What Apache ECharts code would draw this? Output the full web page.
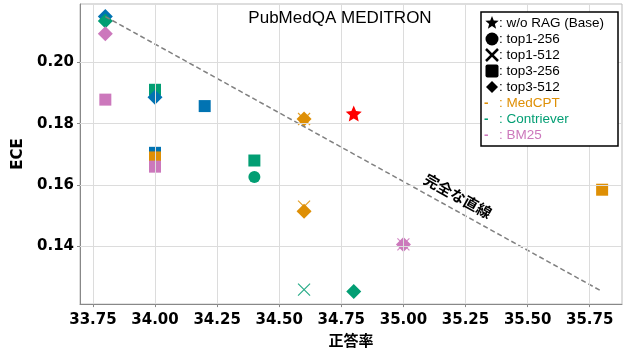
<!DOCTYPE html>
<html><head><meta charset="utf-8">
<script src="https://cdn.jsdelivr.net/npm/echarts@6/dist/echarts.min.js"></script>
<style>html,body{margin:0;padding:0;background:#fff}#c{width:624px;height:353px}</style>
</head><body><div id="c"></div>
<script>
// ---- data ----
const xTicks = [33.75, 34.00, 34.25, 34.50, 34.75, 35.00, 35.25, 35.50, 35.75];
const yTicks = [0.14, 0.16, 0.18, 0.20];
const baseRAG = [[34.8, 0.1833]];
const medcptTop1_512 = [[34.6, 0.1815], [34.6, 0.1530]];
const medcptTop3_256 = [[34.0, 0.1690], [35.8, 0.1585]];
const medcptTop3_512 = [[34.6, 0.1815], [34.6, 0.1515]];
const contrieverTop1_256 = [[34.4, 0.1626]];
const contrieverTop1_512 = [[34.6, 0.1260]];
const contrieverTop3_256 = [[34.0, 0.1910], [34.4, 0.1680]];
const contrieverTop3_512 = [[33.8, 0.2134], [34.8, 0.1254]];
const bm25Top1_512 = [[35.0, 0.1407]];
const bm25Top3_256 = [[33.8, 0.1878], [34.0, 0.1660]];
const bm25Top3_512 = [[33.8, 0.2092], [35.0, 0.1407]];
const otherTop3_256 = [[34.0, 0.1705], [34.2, 0.1857]];
const otherTop3_512 = [[33.8, 0.2148], [34.0, 0.1886]];
const perfectLine = [[33.8, 0.2148], [35.8, 0.1254]];
const legendShapes = ['w/o RAG (Base)', 'top1-256', 'top1-512', 'top3-256', 'top3-512'];
const legendRetrievers = ['MedCPT', 'Contriever', 'BM25'];

// ---- styles ----
const C = {MedCPT: '#de8f05', Contriever: '#029e73', BM25: '#cc78bc', Other: '#0173b2'};
const FONT = "'Liberation Sans', sans-serif";
const TICKFONT = "'DejaVu Sans', sans-serif";
const XPATH = 'path://M0,0L10,10M10,0L0,10';

function sq(d, c) { return {type: 'scatter', data: d, symbol: 'rect', symbolSize: 12, itemStyle: {color: c, opacity: 1}, z: 3}; }
function ci(d, c) { return {type: 'scatter', data: d, symbol: 'circle', symbolSize: 12, itemStyle: {color: c, opacity: 1}, z: 3}; }
function xx(d, c) { return {type: 'scatter', data: d, symbol: XPATH, symbolSize: 12, itemStyle: {color: 'transparent', borderColor: c, borderWidth: 1.2, opacity: 0.85}, z: 3}; }
function di(d, c) { return {type: 'scatter', data: d, symbol: 'diamond', symbolSize: 15, itemStyle: {color: c, opacity: 1}, z: 3}; }

const series = [
  {type: 'line', data: [], z: 1, silent: true,
   markLine: {silent: true, symbol: 'none', label: {show: false}, lineStyle: {color: '#dcdcdc', type: 'solid', width: 1},
     data: xTicks.map(v => ({xAxis: v})).concat(yTicks.map(v => ({yAxis: v})))}},
  sq(otherTop3_256, C.Other), sq(medcptTop3_256, C.MedCPT), sq(bm25Top3_256, C.BM25), sq(contrieverTop3_256, C.Contriever),
  ci(contrieverTop1_256, C.Contriever),
  xx(medcptTop1_512, C.MedCPT), xx(contrieverTop1_512, C.Contriever), xx(bm25Top1_512, C.BM25),
  di(otherTop3_512, C.Other), di(contrieverTop3_512, C.Contriever), di(bm25Top3_512, C.BM25), di(medcptTop3_512, C.MedCPT),
  {type: 'line', data: perfectLine, symbol: 'none', z: 4, lineStyle: {color: '#808080', width: 1.5, type: [5, 3]}},
  {type: 'scatter', data: baseRAG, symbol: 'path://M10,0L12.9,6.9L20,7.6L14.6,12.3L16.2,19.5L10,15.8L3.8,19.5L5.4,12.3L0,7.6L7.1,6.9Z', symbolSize: 16, itemStyle: {color: '#ff0000', opacity: 1}, z: 5}
];

// ---- legend (graphic) ----
const LX = 481, LY = 12, RH = 16, IX = 492, TX = 499;
const g = [{type: 'rect', shape: {x: LX, y: LY, width: 137, height: 134}, style: {fill: '#fff', stroke: '#000', lineWidth: 1.5}, z: 100}];
function rowY(i) { return LY + 11 + i * RH; }
function starPts(cx, cy, R, r) { const p = []; for (let k = 0; k < 10; k++) { const a = -Math.PI / 2 + k * Math.PI / 5; const rr = k % 2 ? r : R; p.push([cx + rr * Math.cos(a), cy + rr * Math.sin(a)]); } return p; }
const y0 = rowY(0), y1 = rowY(1), y2 = rowY(2), y3 = rowY(3), y4 = rowY(4);
g.push({type: 'polygon', shape: {points: starPts(IX, y0, 7, 3)}, style: {fill: '#000'}, z: 101});
g.push({type: 'circle', shape: {cx: IX, cy: y1, r: 6.5}, style: {fill: '#000'}, z: 101});
g.push({type: 'line', shape: {x1: IX - 6, y1: y2 - 6, x2: IX + 6, y2: y2 + 6}, style: {stroke: '#000', lineWidth: 2.5}, z: 101});
g.push({type: 'line', shape: {x1: IX + 6, y1: y2 - 6, x2: IX - 6, y2: y2 + 6}, style: {stroke: '#000', lineWidth: 2.5}, z: 101});
g.push({type: 'rect', shape: {x: IX - 6.5, y: y3 - 6.5, width: 13, height: 13, r: 2}, style: {fill: '#000'}, z: 101});
g.push({type: 'polygon', shape: {points: [[IX, y4 - 6], [IX + 6, y4], [IX, y4 + 6], [IX - 6, y4]]}, style: {fill: '#000'}, z: 101});
legendShapes.forEach((t, i) => g.push({type: 'text', x: TX, y: rowY(i), style: {text: ': ' + t, fill: '#000', font: '13.5px ' + FONT, verticalAlign: 'middle', align: 'left'}, z: 101}));
legendRetrievers.forEach((t, i) => {
  const yy = rowY(5 + i), col = C[t];
  g.push({type: 'text', x: 484, y: yy, style: {text: '-', fill: col, font: 'bold 13.5px ' + FONT, verticalAlign: 'middle'}, z: 101});
  g.push({type: 'text', x: TX, y: yy, style: {text: ': ' + t, fill: col, font: '13.5px ' + FONT, verticalAlign: 'middle'}, z: 101});
});
g.push({type: 'text', x: 340, y: 18, style: {text: 'PubMedQA MEDITRON', fill: '#000', font: '17px ' + FONT, align: 'center', verticalAlign: 'middle'}, z: 50});

const chart = echarts.init(document.getElementById('c'), null, {renderer: 'canvas'});
chart.setOption({
  animation: false,
  backgroundColor: '#fff',
  grid: {left: 80, right: 2, top: 4, bottom: 46, show: true, borderColor: '#bbbbbb', borderWidth: 1},
  xAxis: {type: 'value', min: 33.698, max: 35.88, name: '正答率', nameLocation: 'middle', nameGap: 28,
    nameTextStyle: {fontFamily: "'Noto Sans CJK JP'", fontWeight: 'bold', fontSize: 15, color: '#000'},
    axisLine: {show: true, lineStyle: {color: '#888'}}, splitLine: {show: false},
    axisTick: {show: true, customValues: xTicks, length: 3, lineStyle: {color: '#888'}},
    axisLabel: {customValues: xTicks, formatter: v => v.toFixed(2), fontFamily: TICKFONT, fontWeight: 'bold', fontSize: 15, color: '#000', margin: 9}},
  yAxis: {type: 'value', min: 0.1213, max: 0.2189, name: 'ECE', nameLocation: 'middle', nameGap: 54, nameRotate: 90,
    nameTextStyle: {fontFamily: TICKFONT, fontWeight: 'bold', fontSize: 15, color: '#000'},
    axisLine: {show: true, lineStyle: {color: '#888'}}, splitLine: {show: false},
    axisTick: {show: true, customValues: yTicks, length: 3, lineStyle: {color: '#888'}},
    axisLabel: {customValues: yTicks, formatter: v => v.toFixed(2), fontFamily: TICKFONT, fontWeight: 'bold', fontSize: 15, color: '#000', margin: 6}},
  series: series,
  graphic: g.concat([{type: 'text', x: 458, y: 196, rotation: -29.2 * Math.PI / 180,
    style: {text: '完全な直線', fill: '#000', font: "bold 15px 'Noto Sans CJK JP'", align: 'center', verticalAlign: 'middle'}, z: 50}])
});
</script></body></html>
